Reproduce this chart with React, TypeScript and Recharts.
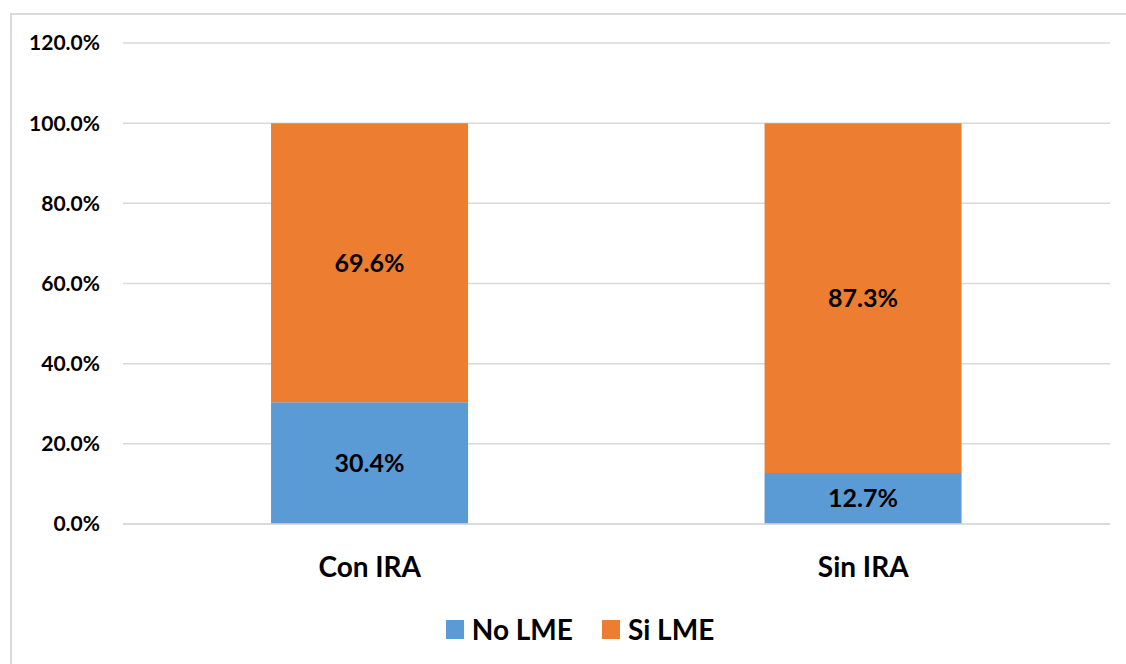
import { Bar, BarChart, CartesianGrid, LabelList, Legend, XAxis, YAxis } from "recharts";

const categories = ["Con IRA", "Sin IRA"];
const noLme = [30.4, 12.7];
const siLme = [69.6, 87.3];
const yTicks = [0, 20, 40, 60, 80, 100, 120];

const data = categories.map((name, i) => ({ name, noLme: noLme[i], siLme: siLme[i] }));

const font = "Lato, 'Open Sans', sans-serif";
const pct = (v: number) => `${Number(v).toFixed(1)}%`;

function LegendContent({ payload }: any) {
  return (
    <div
      style={{
        display: "flex",
        justifyContent: "center",
        alignItems: "center",
        height: 36,
        paddingLeft: 50,
        fontFamily: font
      }}
    >
      {(payload || []).map((item: any, i: number) => (
        <div key={item.value} style={{ display: "flex", alignItems: "center", marginLeft: i ? 29 : 0 }}>
          <span style={{ width: 18, height: 19, background: item.color, display: "inline-block", marginRight: 8 }} />
          <span style={{ fontSize: 28, fontWeight: 700, color: "#000" }}>{item.value}</span>
        </div>
      ))}
    </div>
  );
}

export default function App() {
  return (
    <div style={{ position: "fixed", left: 0, top: 0, width: 1126, height: 664, overflow: "hidden", background: "#fff" }}>
      <div
        style={{
          position: "absolute",
          left: 10,
          top: 13,
          width: 1140,
          height: 700,
          border: "2px solid #DADADA"
        }}
      />
      <div style={{ position: "absolute", left: 0, top: 0 }}>
        <BarChart
          width={1126}
          height={664}
          data={data}
          margin={{ top: 43, right: 16, left: 0, bottom: 17 }}
          barCategoryGap="30%"
        >
          <CartesianGrid vertical={false} stroke="#D9D9D9" strokeWidth={1.5} />
          <XAxis
            dataKey="name"
            height={87}
            tickLine={false}
            tickSize={0}
            tickMargin={33}
            axisLine={{ stroke: "#D9D9D9", strokeWidth: 1.5 }}
            tick={{ fill: "#000", fontSize: 28, fontWeight: 700, fontFamily: font }}
          />
          <YAxis
            width={123}
            domain={[0, 120]}
            ticks={yTicks}
            tickFormatter={pct}
            axisLine={false}
            tickLine={false}
            tickSize={0}
            tickMargin={23}
            tick={{ fill: "#000", fontSize: 21, fontWeight: 700, fontFamily: font }}
          />
          <Legend verticalAlign="bottom" content={<LegendContent />} />
          <Bar dataKey="noLme" name="No LME" stackId="a" fill="#5B9BD5" isAnimationActive={false}>
            <LabelList
              dataKey="noLme"
              position="center"
              formatter={pct}
              fill="#000"
              style={{ fontSize: 25, fontWeight: 700, fontFamily: font }}
            />
          </Bar>
          <Bar dataKey="siLme" name="Si LME" stackId="a" fill="#ED7D31" isAnimationActive={false}>
            <LabelList
              dataKey="siLme"
              position="center"
              formatter={pct}
              fill="#000"
              style={{ fontSize: 25, fontWeight: 700, fontFamily: font }}
            />
          </Bar>
        </BarChart>
      </div>
    </div>
  );
}
